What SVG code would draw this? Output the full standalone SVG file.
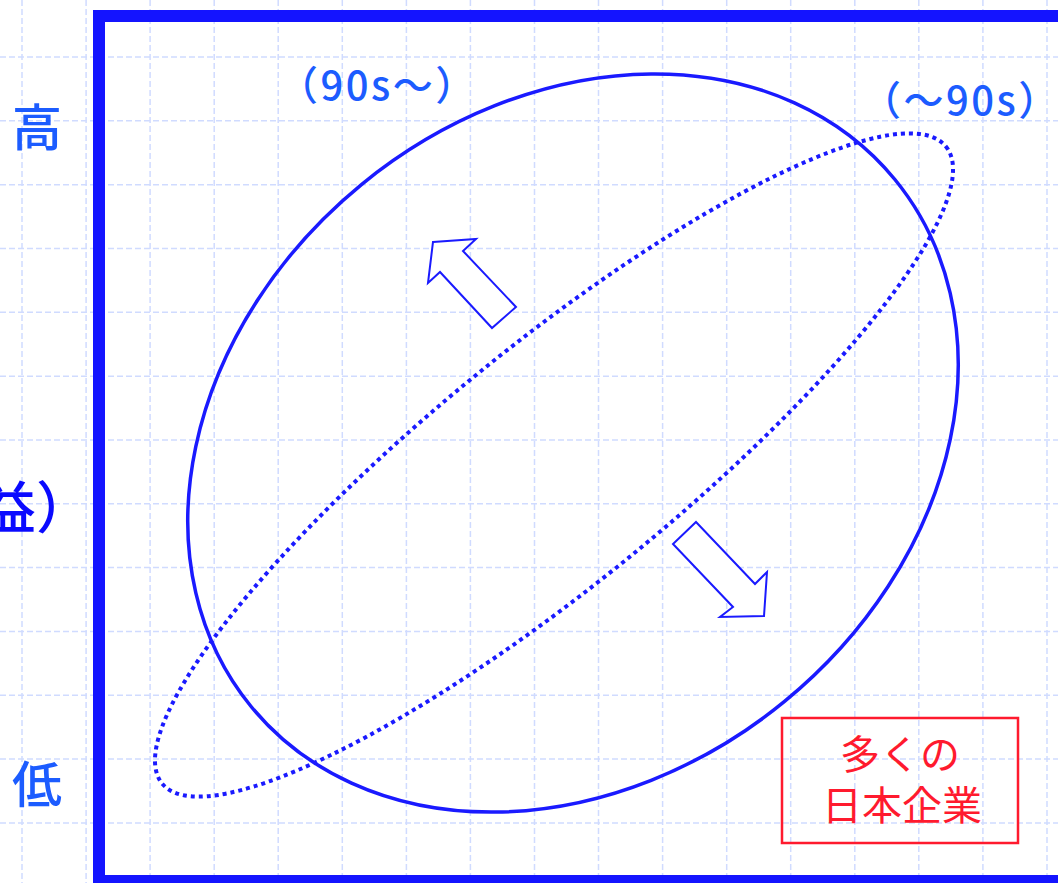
<svg xmlns="http://www.w3.org/2000/svg" width="1058" height="883" viewBox="0 0 1058 883">
<style>
.grid{stroke:#d0dbff;stroke-width:1.5;stroke-dasharray:6 3;fill:none}
.lbl{font-family:"Noto Sans CJK JP","Noto Sans",sans-serif;fill:#1c5cff}
.per{font-family:"Noto Sans CJK JP","Noto Sans",sans-serif;fill:#1c5cff;font-size:40px;letter-spacing:2.5px;font-weight:500}
.arrow{fill:#fff;stroke:#1a1aff;stroke-width:2;stroke-linejoin:miter}
</style>
<rect width="1058" height="883" fill="#fff"/>
<g id="grid">
<path class="grid" d="M22 0V883M86.1 0V883M150.1 0V883M214.2 0V883M278.2 0V883M342.3 0V883M406.4 0V883M470.4 0V883M534.5 0V883M598.5 0V883M662.6 0V883M726.7 0V883M790.7 0V883M854.8 0V883M918.8 0V883M982.9 0V883M1047 0V883"/>
<path class="grid" d="M0 57H1058M0 120.8H1058M0 184.7H1058M0 248.5H1058M0 312.3H1058M0 376.2H1058M0 440H1058M0 503.8H1058M0 567.6H1058M0 631.5H1058M0 695.3H1058M0 759.1H1058M0 823H1058"/>
</g>
<g id="frame">
<rect x="99" y="16" width="1000" height="865" fill="none" stroke="#1414ff" stroke-width="12"/>
</g>
<g id="axis-labels">
<text class="lbl" x="12" y="146" font-size="50" font-weight="500">高</text>
<text class="lbl" x="12" y="803" font-size="50" font-weight="500">低</text>
<text x="92" y="528" font-size="56" text-anchor="end" font-family="'Noto Sans CJK JP',sans-serif" fill="#0a0aff" font-weight="500">益）</text>
</g>
<g id="period-labels">
<text class="per" x="278" y="100">（90s～）</text>
<text class="per" x="861" y="115">（～90s）</text>
</g>
<g id="ellipses">
<ellipse id="solid" cx="573" cy="443" rx="416" ry="334" transform="rotate(-39.3 573 443)" fill="none" stroke="#1a1aff" stroke-width="3.5"/>
<ellipse id="dotted" cx="554" cy="465" rx="505" ry="119" transform="rotate(-39.1 554 465)" fill="none" stroke="#1a1aff" stroke-width="4" stroke-dasharray="4 4"/>
</g>
<g id="connectors">
<polygon class="arrow" points="433,242 476,239 463,251 516,307 492,328 440,272 428,283"/>
<polygon class="arrow" points="696,522 755,584 767,572 764,616 720,617 733,607 673,544"/>
</g>
<g id="japan-box">
<rect x="782" y="718" width="236" height="125" fill="none" stroke="#ff1a2e" stroke-width="2.5"/>
<text x="900" y="769" font-size="40" text-anchor="middle" font-family="'Noto Sans CJK JP',sans-serif" fill="#ff1a2e">多くの</text>
<text x="902" y="820" font-size="40" text-anchor="middle" font-family="'Noto Sans CJK JP',sans-serif" fill="#ff1a2e">日本企業</text>
</g>
</svg>
